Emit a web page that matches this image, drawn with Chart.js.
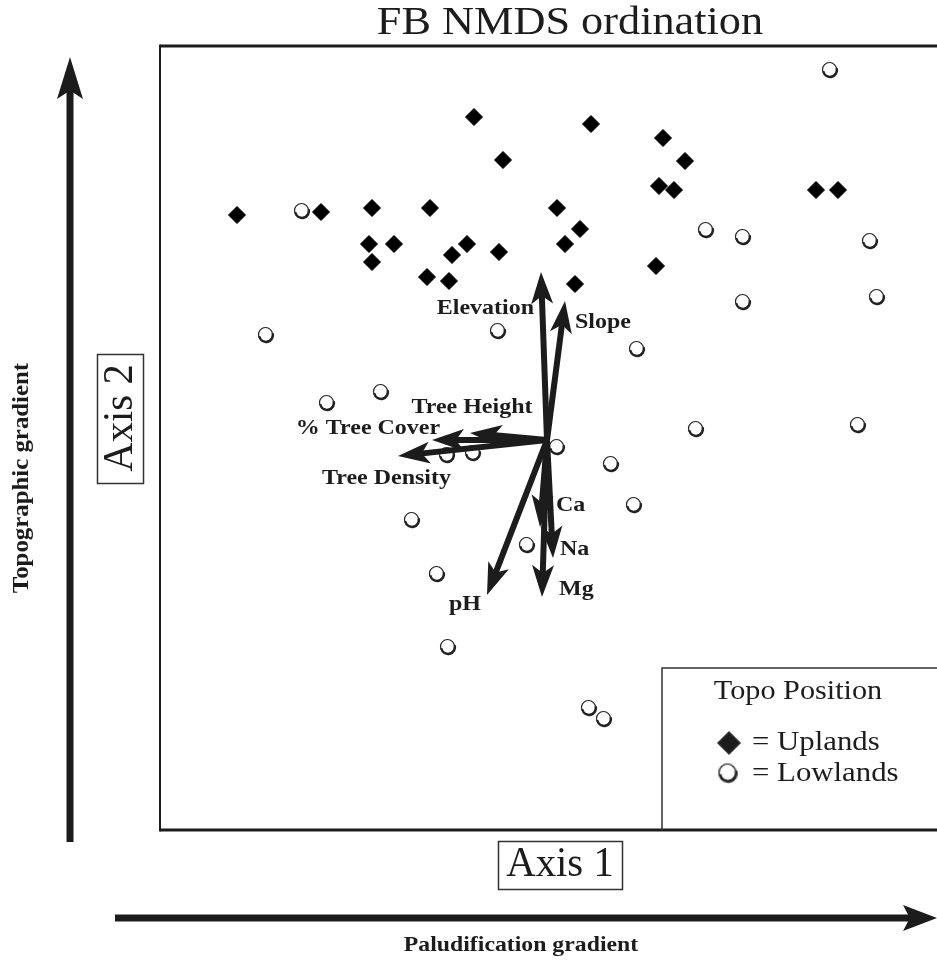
<!DOCTYPE html>
<html><head><meta charset="utf-8">
<script src="https://cdn.jsdelivr.net/npm/chart.js@4/dist/chart.umd.min.js"></script>
<style>html,body{margin:0;padding:0;background:#fff;overflow:hidden}</style>
</head><body>
<canvas id="c" width="937" height="961"></canvas>
<script>
// ---- data (NMDS scores; origin at the vector root) ----
const uplandsX = [-1.24,-0.904,-0.70,-0.468,-0.292,-0.176,0.176,0.04,-0.712,-0.612,-0.70,-0.48,-0.392,-0.38,-0.32,-0.192,0.072,0.132,0.112,0.464,0.552,0.448,0.508,0.436,1.076,1.164];
const uplandsY = [0.90,0.912,0.928,0.928,1.292,1.12,1.264,0.928,0.784,0.784,0.712,0.652,0.636,0.74,0.784,0.752,0.784,0.844,0.624,1.208,1.116,1.016,1.0,0.696,1.0,1.0];
const lowlandsX = [-0.98,1.132,0.636,0.784,1.292,0.784,1.32,-1.124,-0.196,0.36,-0.664,-0.88,0.596,1.244,0.04,-0.40,-0.296,0.256,0.348,-0.54,-0.08,-0.44,-0.396,0.168,0.228];
const lowlandsY = [0.916,1.48,0.84,0.812,0.796,0.552,0.572,0.42,0.436,0.364,0.192,0.148,0.044,0.06,-0.028,-0.06,-0.052,-0.096,-0.26,-0.32,-0.42,-0.536,-0.828,-1.072,-1.116];
const vectorNames = ["Elevation","Slope","Tree Height","% Tree Cover","Tree Density","Ca","Na","Mg","pH"];
const vectorX = [-0.024,0.072,-0.308,-0.46,-0.596,-0.028,0.024,-0.02,-0.24];
const vectorY = [0.672,0.556,0.028,0.0,-0.064,-0.348,-0.472,-0.628,-0.62];
const seriesNames = ["Uplands","Lowlands"];
const chartTitle = "FB NMDS ordination";
const axis1Label = "Axis 1", axis2Label = "Axis 2";
const axis1Gradient = "Paludification gradient", axis2Gradient = "Topographic gradient";
const legendTitle = "Topo Position";

// ---- styling (label placement relative to arrow tips, in px) ----
const vecLabelStyle = {
  "Elevation":   {dx:-7,  dy:36, align:"right"},
  "Slope":       {dx:10,  dy:21, align:"left"},
  "Tree Height": {dx:2,   dy:-26, align:"center"},
  "% Tree Cover":{dx:-64, dy:-12, align:"center"},
  "Tree Density":{dx:-76, dy:22, align:"left"},
  "Ca":          {dx:16,  dy:-22, align:"left"},
  "Na":          {dx:7,   dy:-9, align:"left"},
  "Mg":          {dx:17,  dy:-8, align:"left"},
  "pH":          {dx:-22, dy:9,  align:"center"}
};
const INK = "#1c1c1c";
const SX = 1.08; // horizontal stretch of the original lettering

// hollow circle marker with shaded lower-right rim
function makeCircle(){
  const c = document.createElement('canvas'); c.width = 20; c.height = 20;
  const g = c.getContext('2d');
  g.fillStyle = '#fff'; g.beginPath(); g.arc(9.5,9.5,7.0,0,Math.PI*2); g.fill();
  g.strokeStyle = '#222'; g.lineWidth = 1.2; g.stroke();
  g.lineWidth = 2.4; g.beginPath(); g.arc(10.1,10.1,6.9,-0.25,Math.PI*0.95); g.stroke();
  return c;
}
const circleImg = makeCircle();

function txt(ctx, s, x, y, font, align, sx, rot){
  ctx.save(); ctx.translate(x,y); if(rot) ctx.rotate(rot); ctx.scale(sx||1,1);
  ctx.font = font; ctx.textAlign = align||'center'; ctx.textBaseline='middle';
  ctx.fillStyle = INK; ctx.fillText(s,0,0); ctx.restore();
}
function arrowHead(ctx, tx, ty, ang, len, hw, notch){
  const ca=Math.cos(ang), sa=Math.sin(ang);
  const bx = tx - ca*len, by = ty - sa*len;
  ctx.beginPath();
  ctx.moveTo(tx,ty);
  ctx.lineTo(bx - sa*hw, by + ca*hw);
  ctx.lineTo(tx - ca*len*notch, ty - sa*len*notch);
  ctx.lineTo(bx + sa*hw, by - ca*hw);
  ctx.closePath(); ctx.fill();
}

const decor = {
  id:'decor',
  beforeDatasetsDraw(chart){
    const ctx = chart.ctx, a = chart.chartArea;
    ctx.save();
    ctx.strokeStyle = INK; ctx.lineCap='butt';
    // plot frame (left, top, bottom)
    ctx.lineWidth = 3;
    ctx.beginPath(); ctx.moveTo(a.left, a.top); ctx.lineTo(a.right+5, a.top); ctx.stroke();
    ctx.beginPath(); ctx.moveTo(a.left, a.bottom); ctx.lineTo(a.right+5, a.bottom); ctx.stroke();
    ctx.lineWidth = 2;
    ctx.beginPath(); ctx.moveTo(a.left, a.top-1.5); ctx.lineTo(a.left, a.bottom+1.5); ctx.stroke();
    // title
    txt(ctx, chartTitle, 570, 23, '41px "Liberation Serif"', 'center', SX);
    // big gradient arrows
    ctx.fillStyle = INK; ctx.lineWidth = 7;
    ctx.beginPath(); ctx.moveTo(70, 842); ctx.lineTo(70, 85); ctx.stroke();
    arrowHead(ctx, 70, 57, -Math.PI/2, 42, 13, 0.8);
    ctx.beginPath(); ctx.moveTo(115, 918); ctx.lineTo(910, 918); ctx.stroke();
    arrowHead(ctx, 937, 918, 0, 34, 13, 0.8);
    txt(ctx, axis2Gradient, 22, 478, 'bold 23px "Liberation Serif"', 'center', SX, -Math.PI/2);
    txt(ctx, axis1Gradient, 521, 945, 'bold 22px "Liberation Serif"', 'center', SX);
    // axis name boxes
    ctx.lineWidth = 1.5; ctx.strokeStyle = '#333';
    ctx.strokeRect(97.5, 354.5, 46, 129);
    txt(ctx, axis2Label, 121, 418, '42px "Liberation Serif"', 'center', 0.97, -Math.PI/2);
    ctx.strokeRect(498.5, 841.5, 124, 48);
    txt(ctx, axis1Label, 560, 865, '42px "Liberation Serif"', 'center', 0.97);
    ctx.restore();
  },
  afterDatasetsDraw(chart){
    const ctx = chart.ctx, xs = chart.scales.x, ys = chart.scales.y;
    ctx.save();
    ctx.strokeStyle = INK; ctx.fillStyle = INK; ctx.lineWidth = 6; ctx.lineCap='round';
    const ox = xs.getPixelForValue(0), oy = ys.getPixelForValue(0);
    vectorNames.forEach((n,i)=>{
      const tx = xs.getPixelForValue(vectorX[i]), ty = ys.getPixelForValue(vectorY[i]);
      const ang = Math.atan2(ty-oy, tx-ox), L = 32;
      ctx.beginPath(); ctx.moveTo(ox,oy);
      ctx.lineTo(tx - Math.cos(ang)*L*0.7, ty - Math.sin(ang)*L*0.7); ctx.stroke();
      arrowHead(ctx, tx, ty, ang, L, 11, 0.75);
      const st = vecLabelStyle[n];
      txt(ctx, n, tx+st.dx, ty+st.dy, 'bold 22px "Liberation Serif"', st.align, 1.09);
    });
    // legend box
    const lx = 662, ly = 668, lb = chart.chartArea.bottom;
    ctx.lineWidth = 1.5; ctx.strokeStyle = '#333';
    ctx.beginPath(); ctx.moveTo(chart.chartArea.right+5, ly); ctx.lineTo(lx, ly); ctx.lineTo(lx, lb); ctx.stroke();
    txt(ctx, legendTitle, 798, 692, '28px "Liberation Serif"', 'center', SX);
    const ds = chart.data.datasets;
    Chart.helpers.drawPoint(ctx, {pointStyle: ds[0].pointStyle, radius: 11, borderWidth: 1, rotation:0}, 729, 743);
    ctx.fillStyle = INK;
    txt(ctx, '= ' + seriesNames[0], 752, 743, '28px "Liberation Serif"', 'left', 1.1);
    ctx.drawImage(ds[1].pointStyle, 728-12, 773-12, 24, 24);
    txt(ctx, '= ' + seriesNames[1], 752, 774, '28px "Liberation Serif"', 'left', 1.1);
    ctx.restore();
  }
};

const toPts = (xs, ys) => xs.map((x,i)=>({x, y: ys[i]}));
new Chart(document.getElementById('c'), {
  type: 'scatter',
  data: { datasets: [
    { label: seriesNames[0], data: toPts(uplandsX, uplandsY), pointStyle: 'rectRot', pointRadius: 8.5,
      backgroundColor: '#000', borderColor: '#000', borderWidth: 1 },
    { label: seriesNames[1], data: toPts(lowlandsX, lowlandsY), pointStyle: circleImg, pointRadius: 10,
      backgroundColor: '#fff', borderColor: '#222' }
  ]},
  options: {
    responsive: false, animation: false, devicePixelRatio: 1,
    layout: { autoPadding: false, padding: { left: 160, top: 46, right: 0, bottom: 131 } },
    scales: {
      x: { type: 'linear', min: -1.548, max: 1.56, display: false },
      y: { type: 'linear', min: -1.56, max: 1.576, display: false }
    },
    plugins: { legend: { display: false }, tooltip: { enabled: false }, title: { display: false } }
  },
  plugins: [decor]
});
</script>
</body></html>
